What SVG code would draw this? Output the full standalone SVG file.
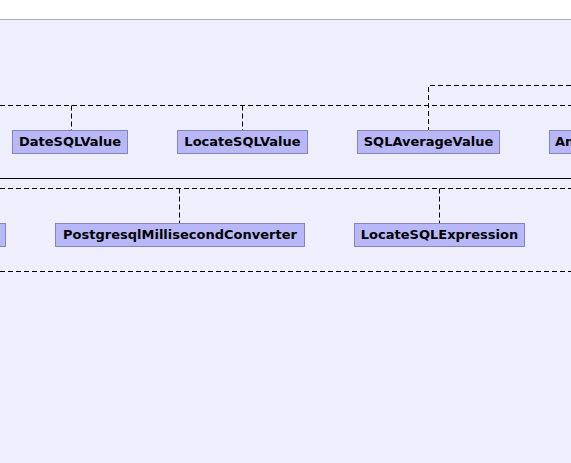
<svg xmlns="http://www.w3.org/2000/svg" width="571" height="463" viewBox="0 0 571 463">
<style>
.n rect{fill:#b8b8f8;stroke:#8484c4;stroke-width:1}
.n text{font-family:"DejaVu Sans",sans-serif;font-weight:bold;font-size:13px;fill:#000;text-anchor:middle}
.d{fill:none;stroke:#000;stroke-width:1;stroke-dasharray:5,3}
.s{fill:none;stroke:#000;stroke-width:1}
</style>
<rect x="0" y="0" width="571" height="463" fill="#ffffff"/>
<rect x="0" y="19.5" width="571" height="444" fill="#eeeefc"/>
<line x1="0" y1="19.5" x2="571" y2="19.5" stroke="#a8a8b4" stroke-width="1"/>
<g id="connectors">
<path class="d" d="M0 105.5H571"/>
<path class="d" d="M71.5 105.5V130"/>
<path class="d" d="M242.5 105.5V130"/>
<path class="d" d="M571 85.5H428.5V130"/>
<path class="s" d="M0 178.5H571"/>
<path class="d" d="M0 188.5H571"/>
<path class="d" d="M179.5 188.5V223"/>
<path class="d" d="M439.5 188.5V223"/>
<path class="d" d="M0 271.5H571"/>
</g>
<g id="DateSQLValue" class="n"><rect x="12.5" y="130.5" width="115" height="23"/><text x="70" y="145.5">DateSQLValue</text></g>
<g id="LocateSQLValue" class="n"><rect x="177.5" y="130.5" width="130" height="23"/><text x="242.5" y="145.5">LocateSQLValue</text></g>
<g id="SQLAverageValue" class="n"><rect x="357.5" y="130.5" width="142" height="23"/><text x="428.5" y="145.5">SQLAverageValue</text></g>
<g id="AnNode" class="n"><rect x="549.5" y="130.5" width="60" height="23"/><text x="555" y="145.5" style="text-anchor:start">An</text></g>
<g id="LeftNode" class="n"><rect x="-50" y="223.5" width="55.5" height="23"/></g>
<g id="PostgresqlMillisecondConverter" class="n"><rect x="55.5" y="223.5" width="249" height="23"/><text x="180" y="238.5">PostgresqlMillisecondConverter</text></g>
<g id="LocateSQLExpression" class="n"><rect x="354.5" y="223.5" width="170" height="23"/><text x="439.5" y="238.5">LocateSQLExpression</text></g>
</svg>
